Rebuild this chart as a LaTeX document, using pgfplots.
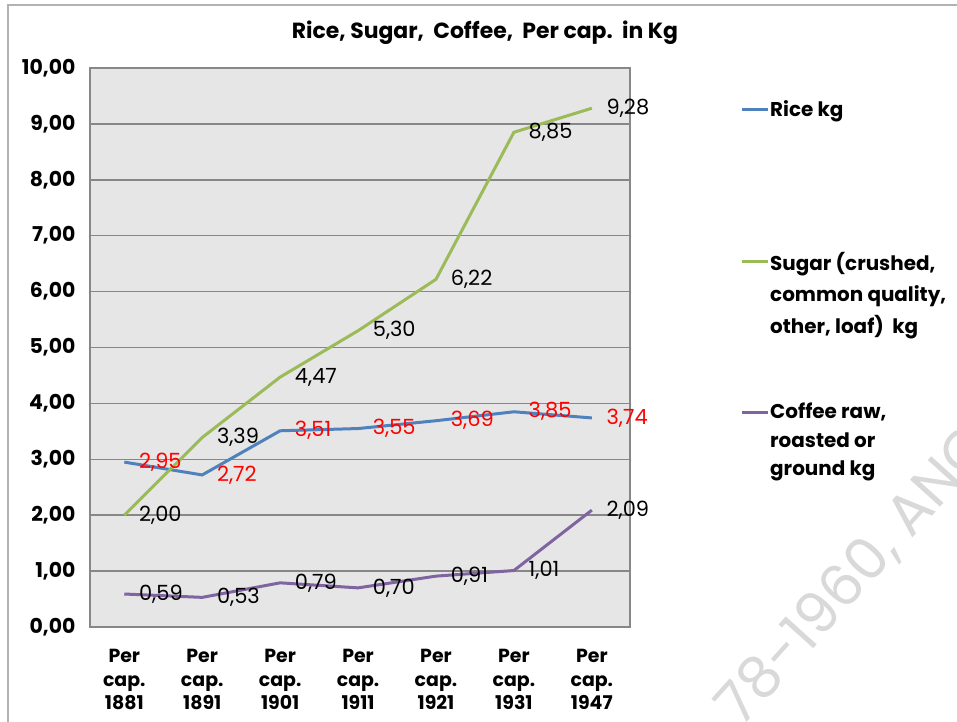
\documentclass[border=0pt]{standalone}
\usepackage{fontspec}
\setmainfont{Poppins}
\usepackage{pgfplots}
\pgfplotsset{compat=1.18}
\definecolor{ricec}{HTML}{4F81BD}
\definecolor{sugarc}{HTML}{9BBB59}
\definecolor{coffeec}{HTML}{8064A2}
\definecolor{bgc}{HTML}{E6E6E6}
\definecolor{gridc}{HTML}{878787}
\begin{document}
\begin{tikzpicture}[x=1bp,y=1bp]
\path[use as bounding box] (0,0) rectangle (957,722);
\draw[gray!60, line width=1.5bp] (8,-5) -- (8,717) -- (965,717);
\node[font=\bfseries\fontsize{22}{26}\selectfont] at (485,689) {Rice, Sugar,\ \ Coffee,\ \ Per cap.\ \ in Kg};
\node[rotate=48, anchor=base west, text=gray!30, font=\fontsize{58}{58}\selectfont] at (739,-9) {78-1960, ANG};
\begin{axis}[at={(90bp,95bp)}, anchor=south west, scale only axis,
  width=540bp, height=559bp,
  xmin=-0.44, xmax=6.49, ymin=0, ymax=10,
  ytick={0,1,...,10},
  xtick={0,...,6},
  xticklabels={{Per\\cap.\\1881},{Per\\cap.\\1891},{Per\\cap.\\1901},{Per\\cap.\\1911},{Per\\cap.\\1921},{Per\\cap.\\1931},{Per\\cap.\\1947}},
  xticklabel style={align=center, font=\bfseries\fontsize{19}{23.5}\selectfont, yshift=-19bp},
  yticklabel style={font=\bfseries\fontsize{20.5}{24}\selectfont, xshift=-11bp},
  /pgf/number format/.cd, fixed, fixed zerofill, precision=2, use comma, assume math mode=true,
  /pgfplots/.cd,
  major tick length=0pt,
  axis background/.style={fill=bgc},
  axis line style={gridc, line width=1.5bp},
  ymajorgrids, grid style={gridc, line width=1.5bp},
  clip=false,
  nodes near coords={\pgfmathprintnumber[fixed,fixed zerofill,precision=2,use comma,assume math mode=true]{\pgfplotspointmeta}},
  every node near coord/.append style={anchor=west, xshift=10bp, font=\fontsize{21}{24}\selectfont},
]
\addplot[ricec, line width=3bp, every node near coord/.append style={text=red}] coordinates {(0,2.95) (1,2.72) (2,3.51) (3,3.55) (4,3.69) (5,3.85) (6,3.74)};
\addplot[sugarc, line width=3bp, every node near coord/.append style={text=black}] coordinates {(0,2.00) (1,3.39) (2,4.47) (3,5.30) (4,6.22) (5,8.85) (6,9.28)};
\addplot[coffeec, line width=3bp, every node near coord/.append style={text=black}] coordinates {(0,0.59) (1,0.53) (2,0.79) (3,0.70) (4,0.91) (5,1.01) (6,2.09)};
\end{axis}
% legend
\draw[ricec, line width=3bp] (742,612) -- (768,612);
\node[anchor=north west, inner sep=0pt, align=left, font=\bfseries\fontsize{20}{30}\selectfont] at (770,622) {Rice kg};
\draw[sugarc, line width=3bp] (742,460) -- (768,460);
\node[anchor=north west, inner sep=0pt, align=left, font=\bfseries\fontsize{20}{31.5}\selectfont] at (770,470) {Sugar (crushed,\\common quality,\\other, loaf)\ \ kg};
\draw[coffeec, line width=3bp] (742,309) -- (768,309);
\node[anchor=north west, inner sep=0pt, align=left, font=\bfseries\fontsize{20}{28.5}\selectfont] at (770,319) {Coffee raw,\\roasted or\\ground kg};
\end{tikzpicture}
\end{document}
